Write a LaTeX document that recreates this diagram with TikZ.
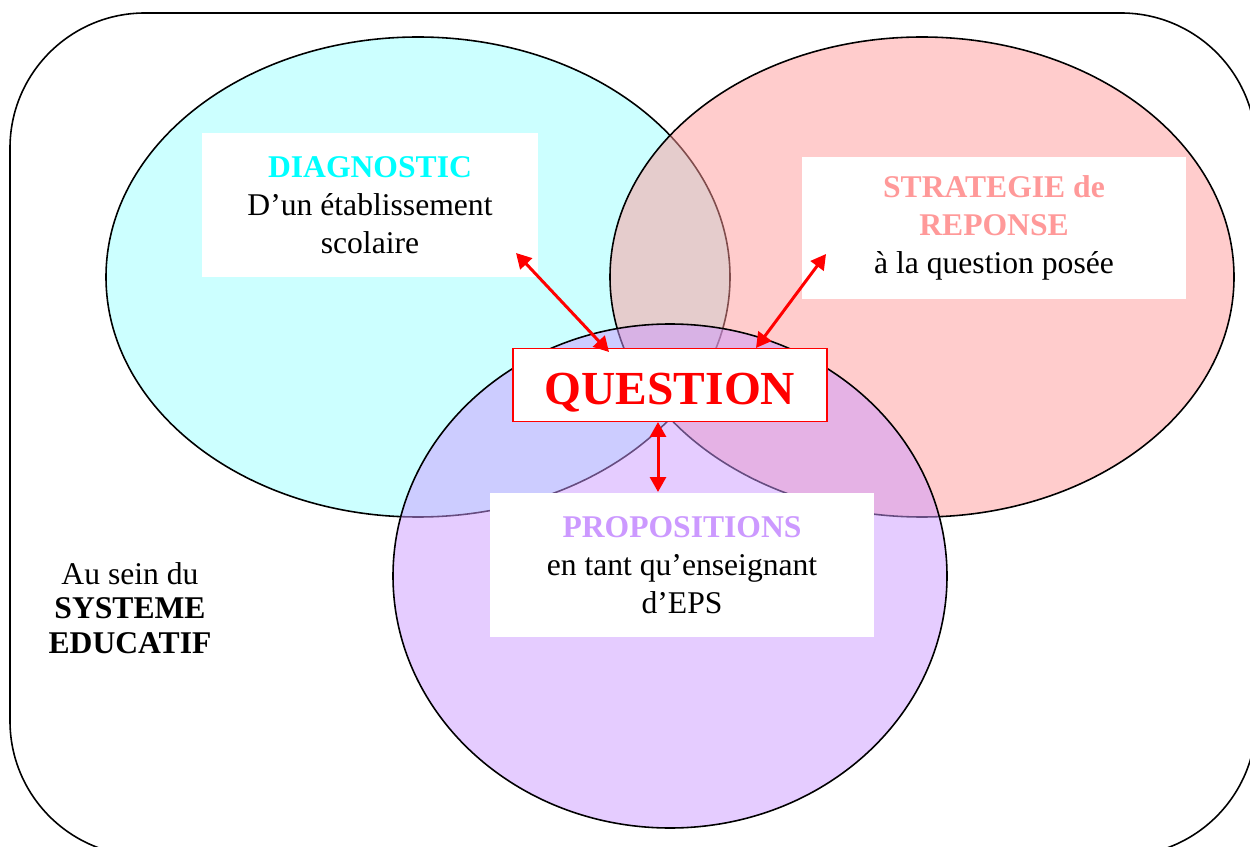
\documentclass[tikz,border=0pt]{standalone}
\usepackage{fontspec}
\setmainfont{Liberation Serif}
\usetikzlibrary{arrows.meta}

\definecolor{diagcol}{HTML}{00FFFF}
\definecolor{stratcol}{HTML}{FF9999}
\definecolor{propcol}{HTML}{CC99FF}

\begin{document}
\begin{tikzpicture}[x=0.02cm,y=-0.02cm,
	zone/.style={draw=black, line width=0.9pt, fill opacity=0.5},
	txtbox/.style={rectangle, fill=white, inner sep=0pt, align=center, font=\fontsize{18}{21.6}\selectfont},
	arr/.style={draw=red, line width=1.7pt, {Triangle[length=0.3cm,width=0.32cm]}-{Triangle[length=0.3cm,width=0.32cm]}}]

	\useasboundingbox (0,0) rectangle (1250,847);
	\clip (0,0) rectangle (1250,847);

	\draw[line width=0.9pt, rounded corners=2.7cm] (10,13) rectangle (1256,856);

	\draw[zone, fill=diagcol!40!white] (418,277) ellipse [x radius=312, y radius=240];
	\draw[zone, fill=stratcol] (922,277) ellipse [x radius=312, y radius=240];
	\draw[zone, fill=propcol] (670,576) ellipse [x radius=277, y radius=252];

	\node[txtbox, minimum width=6.72cm, minimum height=2.9cm] (diag) at (370,205)
		{\textcolor{diagcol}{\textbf{DIAGNOSTIC}}\\D’un établissement\\scolaire};
	\node[txtbox, minimum width=7.7cm, minimum height=2.86cm] (strat) at (994,228)
		{\textcolor{stratcol}{\textbf{STRATEGIE de}}\\\textcolor{stratcol}{\textbf{REPONSE}}\\à la question posée};
	\node[txtbox, minimum width=7.7cm, minimum height=2.88cm] (prop) at (682,565)
		{\textcolor{propcol}{\textbf{PROPOSITIONS}}\\en tant qu’enseignant\\d’EPS};
	\node[txtbox, draw=red, line width=0.8pt, minimum width=6.28cm, minimum height=1.46cm,
		text height=0.78cm, text depth=0pt,
		text=red, font=\fontsize{27}{32}\selectfont\bfseries] (quest) at (670,385) {QUESTION};

	\node[align=center, font=\fontsize{18}{19.8}\selectfont] (systeme) at (130,608)
		{Au sein du\\\textbf{SYSTEME}\\\textbf{EDUCATIF}};

	\coordinate (d1) at (516,253);
	\coordinate (q1) at (609,352);
	\coordinate (s1) at (826,254);
	\coordinate (q2) at (756,348);
	\coordinate (q3) at (658,422);
	\coordinate (p1) at (658,492);

	\draw[arr] (d1) -- (q1);
	\draw[arr] (s1) -- (q2);
	\draw[arr] (q3) -- (p1);

\end{tikzpicture}
\end{document}
